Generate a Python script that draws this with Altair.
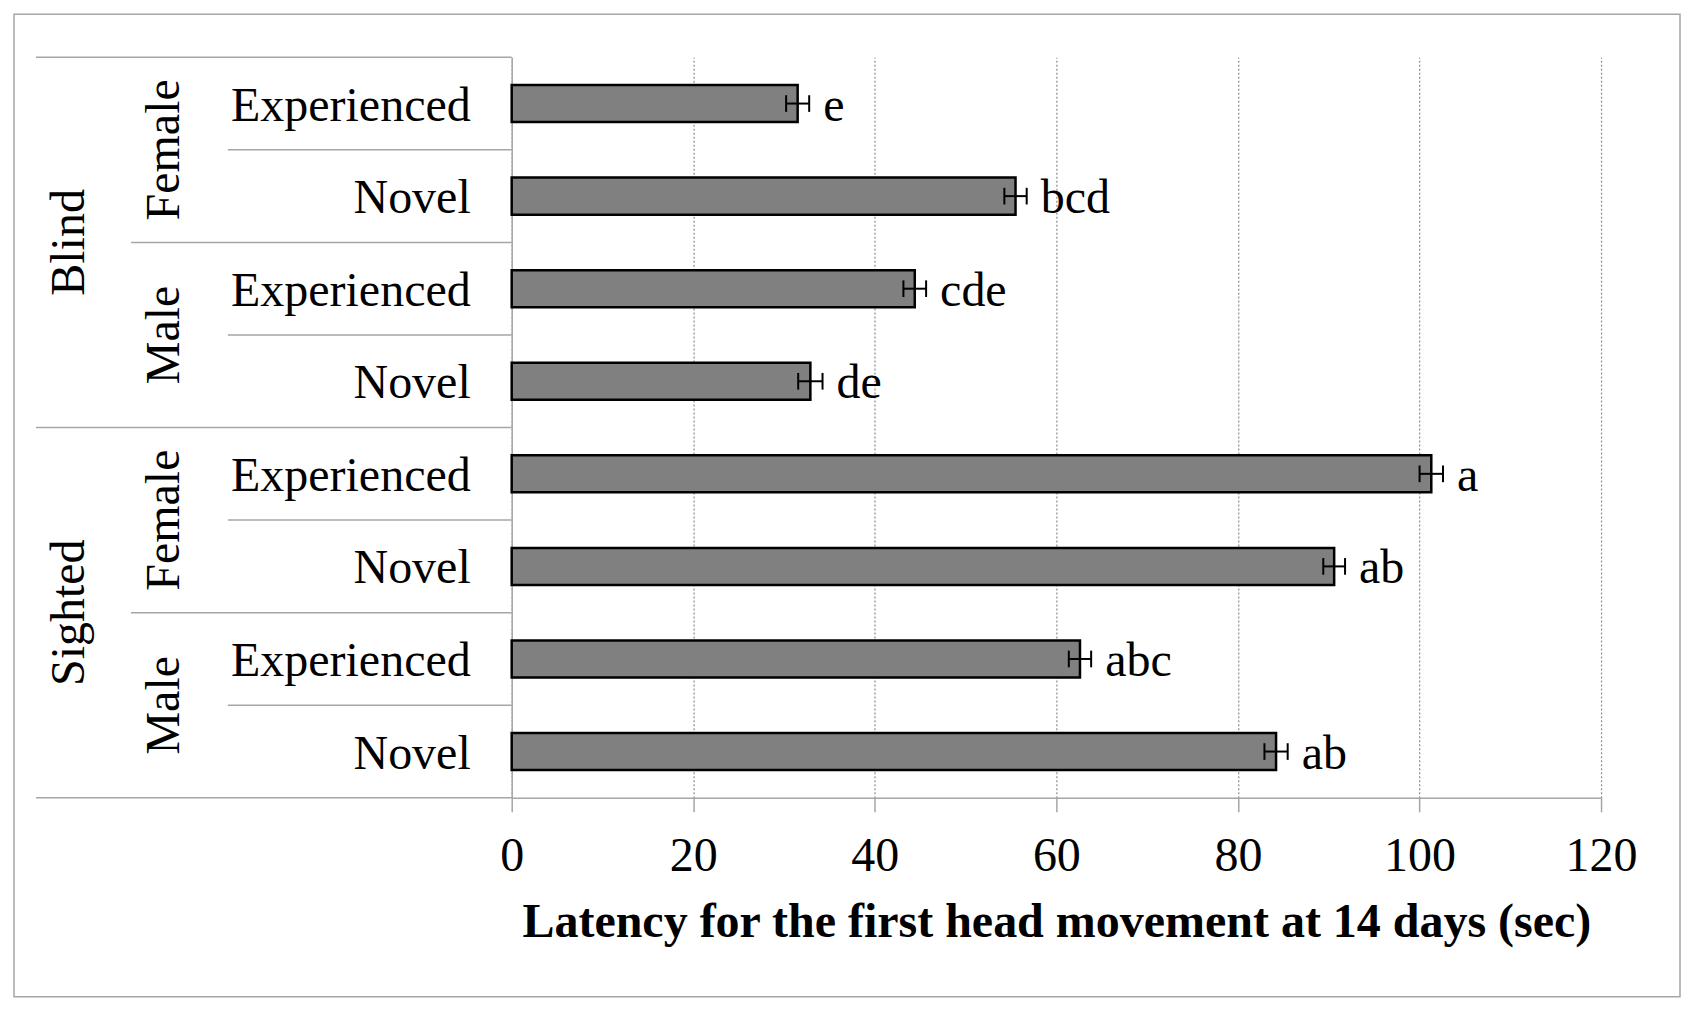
import altair as alt
import pandas as pd

# ---- data ----
conditions = ["Blind", "Blind", "Blind", "Blind", "Sighted", "Sighted", "Sighted", "Sighted"]
sexes = ["Female", "Female", "Male", "Male", "Female", "Female", "Male", "Male"]
objects = ["Experienced", "Novel", "Experienced", "Novel", "Experienced", "Novel", "Experienced", "Novel"]
latency = [31.5, 55.5, 44.4, 32.9, 101.3, 90.6, 62.6, 84.2]
sem = [1.27, 1.23, 1.25, 1.34, 1.29, 1.20, 1.23, 1.28]
letters = ["e", "bcd", "cde", "de", "a", "ab", "abc", "ab"]
x_ticks = [0, 20, 40, 60, 80, 100, 120]
x_title = "Latency for the first head movement at 14 days (sec)"

FONT = "Liberation Serif"
FS = 48
GRAY = "#a6a6a6"
W, H = 1090, 741

df = pd.DataFrame({
    "idx": list(range(len(latency))),
    "condition": conditions,
    "sex": sexes,
    "object": objects,
    "latency": latency,
    "sem": sem,
    "letter": letters,
})

sex_df = df.groupby(["condition", "sex"], sort=False)["idx"].mean().reset_index()
sex_df["mid"] = sex_df["idx"] + 0.5
cond_df = df.groupby(["condition"], sort=False)["idx"].mean().reset_index()
cond_df["mid"] = cond_df["idx"] + 0.5

# separator lines between rows of the label table
bounds = []
n = len(df)
for i in range(0, n + 1):
    if i == 0 or i == n or conditions[i] != conditions[i - 1]:
        lvl = "condition"
    elif sexes[i] != sexes[i - 1]:
        lvl = "sex"
    else:
        lvl = "object"
    bounds.append({"b": i, "level": lvl})
bounds_df = pd.DataFrame(bounds)

yscale = alt.Scale(domain=[0, n], reverse=True, nice=False, zero=False)
xscale = alt.Scale(domain=[0, 120], nice=False)

base = alt.Chart(df).transform_calculate(
    top="datum.idx + 0.3",
    bot="datum.idx + 0.7",
    mid="datum.idx + 0.5",
    cap1="datum.idx + 0.41",
    cap2="datum.idx + 0.59",
    lo="datum.latency - datum.sem",
    hi="datum.latency + datum.sem",
)

border = alt.Chart(pd.DataFrame({"k": [0]})).mark_rect(
    fillOpacity=0, stroke=GRAY, strokeWidth=1.5
).encode(
    x=alt.value(-498), x2=alt.value(W + 79), y=alt.value(-43), y2=alt.value(H + 199)
)

bars = base.mark_bar(fill="#808080", stroke="black", strokeWidth=2.5).encode(
    x=alt.X(
        "latency:Q",
        scale=xscale,
        axis=alt.Axis(
            values=x_ticks, format="d", grid=True, gridDash=[2, 2], gridColor="#8c8c8c",
            gridWidth=1.2, domainColor=GRAY, domainWidth=1.5, tickColor=GRAY, tickWidth=1.5,
            tickSize=14, labelFont=FONT, labelFontSize=FS, labelColor="black",
            labelBaseline="alphabetic", labelPadding=59, labelFlush=False,
            title=x_title, titleFont=FONT, titleFontSize=FS, titleFontWeight="bold",
            titleColor="black", titleBaseline="alphabetic", titleY=139,
        ),
    ),
    x2=alt.value(0),
    y=alt.Y(
        "top:Q",
        scale=yscale,
        axis=alt.Axis(labels=False, ticks=False, grid=False, domainColor=GRAY,
                      domainWidth=1.5, title=""),
    ),
    y2="bot:Q",
)

err_line = base.mark_rule(color="black", strokeWidth=2).encode(
    x="lo:Q", x2="hi:Q", y="mid:Q"
)
cap_lo = base.mark_rule(color="black", strokeWidth=2).encode(
    x="lo:Q", y="cap1:Q", y2="cap2:Q"
)
cap_hi = base.mark_rule(color="black", strokeWidth=2).encode(
    x="hi:Q", y="cap1:Q", y2="cap2:Q"
)
letter_txt = base.mark_text(
    align="left", baseline="alphabetic", dx=14, dy=17, font=FONT, fontSize=FS, color="black"
).encode(x="hi:Q", y="mid:Q", text="letter:N")

obj_txt = base.mark_text(
    align="right", baseline="alphabetic", dy=17, font=FONT, fontSize=FS, color="black"
).encode(x=alt.value(-41), y="mid:Q", text="object:N")

sex_txt = alt.Chart(sex_df).mark_text(
    align="center", baseline="alphabetic", angle=270, font=FONT, fontSize=FS, color="black"
).encode(x=alt.value(-333), y="mid:Q", text="sex:N")

cond_txt = alt.Chart(cond_df).mark_text(
    align="center", baseline="alphabetic", angle=270, font=FONT, fontSize=FS, color="black"
).encode(x=alt.value(-428), y="mid:Q", text="condition:N")

starts = {"condition": -476, "sex": -381, "object": -284}
sep_layers = []
for lvl, xs in starts.items():
    sep_layers.append(
        alt.Chart(bounds_df).transform_filter(alt.datum.level == lvl)
        .mark_rule(color=GRAY, strokeWidth=1.5)
        .encode(y="b:Q", x=alt.value(xs), x2=alt.value(0))
    )

chart = alt.layer(
    border, *sep_layers, bars, err_line, cap_lo, cap_hi, letter_txt, obj_txt, sex_txt, cond_txt
).properties(width=W, height=H).configure_view(strokeWidth=0)

chart.save("out.html", embed_options={"renderer": "svg", "actions": False})
